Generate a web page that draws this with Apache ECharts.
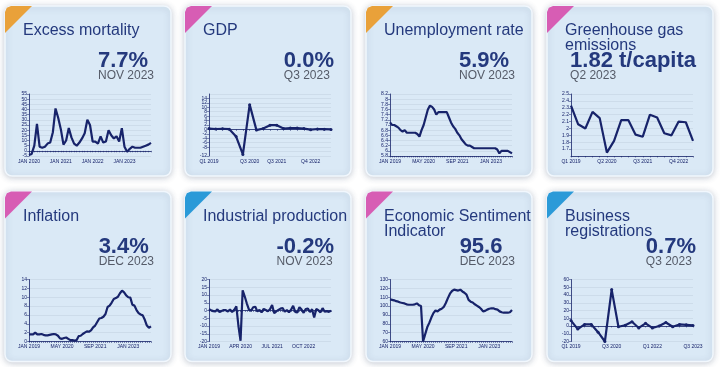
<!DOCTYPE html>
<html><head><meta charset="utf-8">
<script src="https://cdn.jsdelivr.net/npm/echarts@6/dist/echarts.min.js"></script>
<style>html,body{margin:0;padding:0;background:#fff}#c{width:720px;height:367px}</style>
</head><body><div id="c"></div><script>
// ---------- categories ----------
const MON = ['JAN','FEB','MAR','APR','MAY','JUN','JUL','AUG','SEP','OCT','NOV','DEC'];
function months(y0, n){const a=[];for(let i=0;i<n;i++){a.push(MON[i%12]+' '+(y0+Math.floor(i/12)));}return a;}
function quarters(y0, n){const a=[];for(let i=0;i<n;i++){a.push('Q'+(i%4+1)+' '+(y0+Math.floor(i/4)));}return a;}

const excessCats = months(2020, 47);
const gdpCats = quarters(2019, 19);
const unempCats = months(2019, 59);
const ghgCats = quarters(2019, 18);
const inflCats = months(2019, 60);
const indCats = months(2019, 59);
const esiCats = months(2019, 60);
const bizCats = quarters(2019, 19);

// ---------- tick labels ----------
const excessTicks = ['JAN 2020','JAN 2021','JAN 2022','JAN 2023'];
const gdpTicks = ['Q1 2019','Q3 2020','Q3 2021','Q4 2022'];
const unempTicks = ['JAN 2019','MAY 2020','SEP 2021','JAN 2023'];
const ghgTicks = ['Q1 2019','Q2 2020','Q3 2021','Q4 2022'];
const inflTicks = ['JAN 2019','MAY 2020','SEP 2021','JAN 2023'];
const indTicks = ['JAN 2019','APR 2020','JUL 2021','OCT 2022'];
const esiTicks = ['JAN 2019','MAY 2020','SEP 2021','JAN 2023'];
const bizTicks = ['Q1 2019','Q3 2020','Q1 2022','Q3 2023'];

// ---------- values ----------
const excessVals = [-4,-3,5,26,4,3,4,7,8,18,41,32,
  21,6,10,22,13,7,5,8,12,17,30,25,
  9,9,7,14,8,9,20,15,12,14,9,22,
  4,-1,2,4,3,3,3,4,5,6,7.7];
const gdpVals = [0.4,0.2,0.3,0.1,-3.2,-11.3,11.2,-0.3,0.4,1.9,1.9,0.4,0.6,0.6,0.4,-0.1,0.2,0.1,0.0];
const unempVals = [7.1,7.0,7.0,6.95,6.9,6.8,6.75,6.8,6.7,6.7,6.7,6.7,
  6.7,6.65,6.55,6.8,7.0,7.3,7.6,7.75,7.7,7.6,7.4,7.5,
  7.5,7.5,7.5,7.5,7.3,7.1,6.95,6.85,6.7,6.6,6.45,6.35,
  6.25,6.2,6.2,6.15,6.1,6.1,6.1,6.1,6.1,6.1,6.1,6.1,
  6.1,6.1,6.1,6.05,5.9,6.0,6.0,6.0,6.0,5.95,5.9];
const ghgVals = [2.33,2.06,2.0,2.24,2.15,1.65,1.82,2.12,2.12,1.91,1.88,2.2,2.16,1.93,1.9,2.1,2.09,1.82];
const inflVals = [1.6,1.6,1.6,2.0,1.6,1.6,1.7,1.5,1.4,1.4,1.5,1.6,
  1.7,1.6,1.3,0.7,0.6,0.8,0.9,0.6,0.3,0.3,0.2,0.3,
  1.2,1.3,1.7,2.0,2.3,2.2,2.5,3.2,3.6,4.4,5.2,5.3,
  5.6,6.2,7.8,8.1,8.8,9.6,9.8,10.1,10.9,11.5,11.1,10.4,
  10.0,9.9,8.3,8.1,7.1,6.4,6.1,5.9,4.9,3.6,3.1,3.4];
const indVals = [0.9,0.2,-0.4,-0.6,0.7,-1.0,-0.3,0.3,0.2,-0.6,0.6,-0.9,
  0.5,2.6,-10.0,-19.5,13.0,9.0,4.5,0.6,-0.2,2.1,2.4,-0.6,
  0.3,-1.2,1.0,0.3,-0.5,0.8,3.5,-1.8,-0.6,0.4,1.2,1.6,
  -0.8,0.3,-1.2,0.5,3.0,-0.9,-1.3,2.2,0.6,-1.5,1.0,1.3,
  -1.0,0.8,-4.5,1.0,0.2,-1.2,1.5,-0.8,-0.4,-0.9,-0.2];
const esiVals = [107.5,107,106.5,105.5,105,104,103.5,103,102,101.5,101.5,101.5,
  102,103,101,100,60,68,76,81,87,92,95,94,
  96,97,99,103.5,109,114,117,118.5,118,117.5,118.5,116.5,
  115,113,107,105,104,102,100.5,99,97,94,94.5,96,
  97,97.5,97.5,96.5,96,94,93,92.5,92.5,92.5,93,95.6];
const bizVals = [7,-4,2,2,-8,-20,47,-1,1,5.5,-2.5,3.5,-2.5,0,4.5,-1,2,1.5,0.7];

// ---------- headline texts ----------
const titles = ['Excess mortality','GDP','Unemployment rate','Greenhouse gas\nemissions',
  'Inflation','Industrial production','Economic Sentiment\nIndicator','Business\nregistrations'];
const headValues = ['7.7%','0.0%','5.9%','1.82 t/capita','3.4%','-0.2%','95.6','0.7%'];
const headDates = ['NOV 2023','Q3 2023','NOV 2023','Q2 2023','DEC 2023','NOV 2023','DEC 2023','Q3 2023'];

// ---------- panel wiring ----------
const ORANGE='#e9a13a', PINK='#d75db4', BLUE='#2b9ad8';
const panels = [
  {cats:excessCats, vals:excessVals, ticks:excessTicks, min:-5, max:55, interval:5, corner:ORANGE},
  {cats:gdpCats, vals:gdpVals, ticks:gdpTicks, min:-12, max:16, interval:2, corner:PINK, sym:true},
  {cats:unempCats, vals:unempVals, ticks:unempTicks, min:5.8, max:8.2, interval:0.2, corner:ORANGE},
  {cats:ghgCats, vals:ghgVals, ticks:ghgTicks, min:1.6, max:2.5, interval:0.1, corner:PINK, hideMin:true},
  {cats:inflCats, vals:inflVals, ticks:inflTicks, min:0, max:14, interval:2, corner:PINK},
  {cats:indCats, vals:indVals, ticks:indTicks, min:-20, max:20, interval:5, corner:BLUE},
  {cats:esiCats, vals:esiVals, ticks:esiTicks, min:60, max:130, interval:10, corner:PINK},
  {cats:bizCats, vals:bizVals, ticks:bizTicks, min:-20, max:60, interval:10, corner:BLUE, sym:true}
];

const cardX=[5,185,366,547], cardY=[6,191.5], CW=166, CH=170;
const NAVY='#17236a', TITLE='#24397d', GREY='#555b68';
const FF='"Liberation Sans", Arial, Helvetica, sans-serif';
const ctx=document.createElement('canvas').getContext('2d');
function tw(font,s){ctx.font=font;return ctx.measureText(s).width;}

const grids=[],xAxes=[],yAxes=[],series=[],graphics=[];
panels.forEach((p,i)=>{
  const cx=cardX[i%4], cy=cardY[Math.floor(i/4)];
  graphics.push({type:'rect',z:-20,shape:{x:cx,y:cy,width:CW,height:CH,r:7},
    style:{fill:'#dae9f6',stroke:'#f1f7fd',lineWidth:1.5,shadowBlur:6,shadowColor:'rgba(60,80,110,0.28)',shadowOffsetY:1}});
  graphics.push({type:'polygon',z:-19,shape:{points:[[cx,cy+27],[cx,cy+6],[cx+1.8,cy+1.8],[cx+6,cy],[cx+27,cy]]},
    style:{fill:p.corner}});
  const tf='16px '+FF, vf='bold 22px '+FF, df='12px '+FF;
  graphics.push({type:'text',z:10,style:{text:titles[i],x:cx+18,y:cy+17.3,font:tf,fill:TITLE,lineHeight:15,
    textVerticalAlign:'top',verticalAlign:'top'}});
  const bw=Math.max(tw(vf,headValues[i]),tw(df,headDates[i]));
  const bx=cx+CW-17-bw;
  graphics.push({type:'text',z:10,style:{text:headValues[i],x:bx,y:cy+44.3,font:vf,fill:TITLE,lineHeight:22,
    textVerticalAlign:'top',verticalAlign:'top'}});
  graphics.push({type:'text',z:10,style:{text:headDates[i],x:bx,y:cy+63.8,font:df,fill:GREY,lineHeight:12,
    textVerticalAlign:'top',verticalAlign:'top'}});

  grids.push({left:cx+24,top:cy+88,width:122,height:62,containLabel:false});
  const ticks=p.ticks;
  xAxes.push({gridIndex:i,type:'category',data:p.cats,boundaryGap:false,
    axisLine:{lineStyle:{color:NAVY,width:0.8}},
    axisTick:{show:true,interval:0,length:1.5,lineStyle:{color:NAVY,width:0.5}},
    axisLabel:{interval:(idx,v)=>ticks.indexOf(v)>=0,fontSize:5,color:NAVY,margin:3,fontFamily:FF},
    splitLine:{show:false}});
  yAxes.push({gridIndex:i,type:'value',min:p.min,max:p.max,interval:p.interval,
    axisLine:{show:true,lineStyle:{color:NAVY,width:0.8}},
    axisTick:{show:true,length:2,lineStyle:{color:NAVY,width:0.5}},
    axisLabel:{fontSize:5,color:NAVY,margin:2,fontFamily:FF,showMinLabel:!p.hideMin},
    splitLine:{show:true,lineStyle:{color:'#c4d3e2',width:0.6}}});
  series.push({type:'line',xAxisIndex:i,yAxisIndex:i,data:p.vals,
    showSymbol:!!p.sym,symbol:'circle',symbolSize:3,
    lineStyle:{color:NAVY,width:2.2},itemStyle:{color:NAVY},z:5});
});

const chart=echarts.init(document.getElementById('c'),null,{renderer:'canvas'});
chart.setOption({animation:false,backgroundColor:'#ffffff',
  grid:grids,xAxis:xAxes,yAxis:yAxes,series:series,graphic:{elements:graphics}});
</script></body></html>
